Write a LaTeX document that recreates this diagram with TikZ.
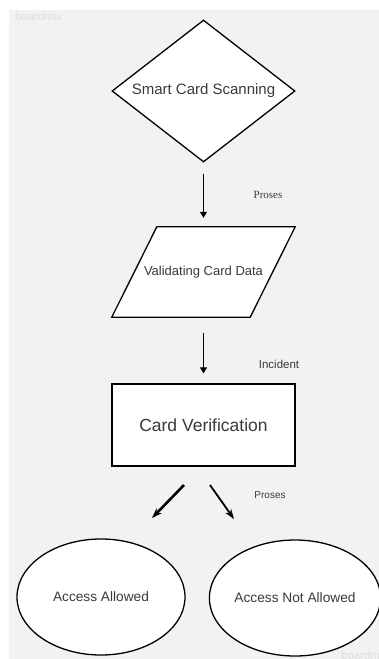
\documentclass[tikz,border=0pt]{standalone}
\usepackage{fontspec}
\setmainfont{Liberation Sans}
\newfontfamily\labelserif{Liberation Serif}
\usetikzlibrary{shapes.geometric,arrows.meta}

\definecolor{canvas}{HTML}{F2F2F2}
\definecolor{ink}{HTML}{3A3A3A}

\newcommand*\boxwidth{183pt}
\newcommand*\slant{22.5pt}
\tikzset{
    block/.style={
        draw,
        line width=1.3pt,
        fill=white,
        text=ink,
        inner sep=0pt,
        align=center
    },
    decision/.style={block, diamond, aspect=1.29, minimum width=\boxwidth, minimum height=142pt,
        font=\fontsize{15}{18}\selectfont},
    dataio/.style={rectangle, text=ink, inner sep=0pt, minimum width=138pt, minimum height=90pt,
        font=\fontsize{13}{16}\selectfont},
    process/.style={block, rectangle, minimum width=\boxwidth, minimum height=82pt,
        font=\fontsize{17.5}{21}\selectfont},
    terminal/.style={block, ellipse, minimum height=116pt,
        font=\fontsize{13.7}{16}\selectfont},
    flow/.style={-{Triangle[length=6pt,width=7pt]}, line width=1.2pt},
    split/.style={-{Stealth[length=10pt,width=7pt]}, line width=#1},
    note/.style={text=ink, inner sep=0pt},
    watermark/.style={text=black!13, inner sep=0pt, font=\fontsize{11.4}{13}\selectfont}
}

\begin{document}
\begin{tikzpicture}[x=1pt,y=-1pt]

    % Page size and the grey canvas with its white margin.
    \useasboundingbox (0,0) rectangle (379,659);
    \fill[canvas] (9,10) rectangle (379,659);
    \node[watermark, anchor=west] (marktop) at (15,16) {boardmix};
    \node[watermark, anchor=west] (markbottom) at (341,655) {boardmix};

    % The flow chart blocks, top to bottom.
    \node[decision] (scan) at (203.5,91) {Smart Card Scanning};
    % The slanted data box is drawn round its text node.
    \node[dataio] (valid) at (203.5,272) {};
    \draw[block] ([xshift=-\slant]valid.south west) -- ([xshift=\slant]valid.north west)
        -- ([xshift=\slant]valid.north east) -- ([xshift=-\slant]valid.south east) -- cycle;
    \node[dataio] (validtext) at (valid) {Validating Card Data};
    \node[process] (verif) at (203.5,425) {Card Verification};
    \node[terminal, minimum width=168pt] (allowed) at (101,597) {Access Allowed};
    \node[terminal, minimum width=170pt] (denied) at (295,598) {Access Not Allowed};

    % Straight connectors.
    \draw[flow, shorten <=11pt, shorten >=9pt] (scan) -- (valid);
    \draw[flow, shorten <=16pt, shorten >=10pt] (valid) -- (verif);

    % The split into the two outcomes.
    \coordinate (leftfrom) at (184,485);
    \coordinate (leftto) at (152,518);
    \coordinate (rightfrom) at (210,485);
    \coordinate (rightto) at (234,519);
    \draw[split=2.6pt] (leftfrom) -- (leftto);
    \draw[split=1.8pt] (rightfrom) -- (rightto);

    % Labels beside the connectors.
    \node[note, font=\labelserif\fontsize{11}{13}\selectfont] (proses) at (268,195) {Proses};
    \node[note, font=\fontsize{11.5}{14}\selectfont] (incident) at (279,364) {Incident};
    \node[note, font=\fontsize{10}{12}\selectfont] (prosessplit) at (270,495) {Proses};

\end{tikzpicture}
\end{document}
